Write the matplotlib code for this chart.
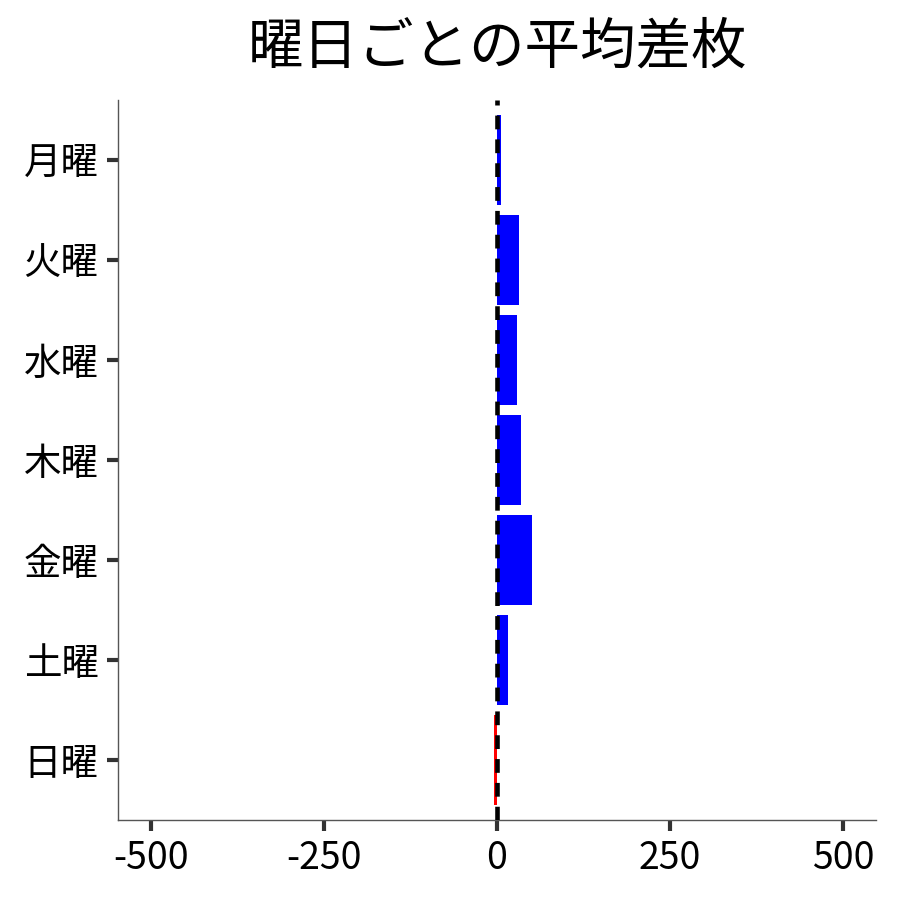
import matplotlib
matplotlib.use("Agg")
import matplotlib.pyplot as plt

plt.rcParams['font.family'] = ['Noto Sans CJK JP', 'DejaVu Sans']

# weekday averages
days = ['月曜', '火曜', '水曜', '木曜', '金曜', '土曜', '日曜']
avg_diff = [6, 32, 29, 35, 50, 16, -4]
x_ticks = [-500, -250, 0, 250, 500]

colors = ['blue' if v >= 0 else 'red' for v in avg_diff]

fig = plt.figure(figsize=(9, 9), dpi=100)
ax = fig.add_axes([118 / 900, 80 / 900, 758 / 900, 720 / 900])

pos = list(range(len(days)))
ax.barh(pos, avg_diff, height=0.9, color=colors, zorder=2)
ax.axvline(0, color='black', linestyle=(0, (3, 2.2)), linewidth=3.3, zorder=3)

ax.set_yticks(pos)
ax.set_yticklabels(days)
ax.set_ylim(6.6, -0.6)
ax.set_xticks(x_ticks)
ax.set_xticklabels([str(t) for t in x_ticks])
ax.set_xlim(-548, 548)

for s in ['top', 'right']:
    ax.spines[s].set_visible(False)
for s in ['left', 'bottom']:
    ax.spines[s].set_color('#555555')
    ax.spines[s].set_linewidth(1)

ax.tick_params(axis='both', labelsize=27, length=8, width=3, color='#333333', pad=6)

ax.set_title('曜日ごとの平均差枚', fontsize=40, pad=26)

plt.savefig('out.png')
